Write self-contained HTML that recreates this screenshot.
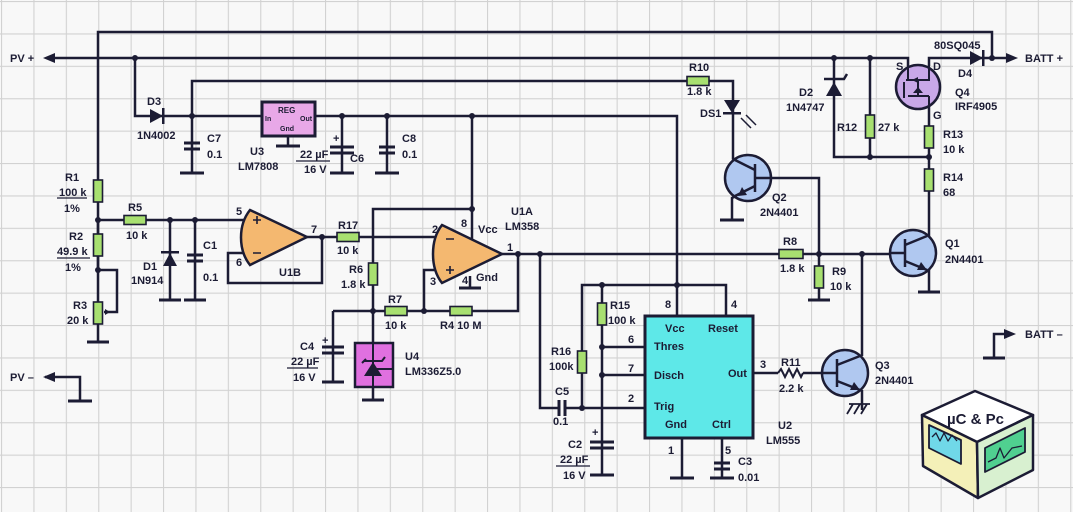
<!DOCTYPE html>
<html><head><meta charset="utf-8"><style>
html,body{margin:0;padding:0;background:#f8f8f8}
svg{display:block}
text{font-family:"Liberation Sans",sans-serif;font-weight:bold;font-size:11px;fill:#1c1c34}
</style></head><body>
<svg width="1073" height="512" viewBox="0 0 1073 512" xmlns="http://www.w3.org/2000/svg">
<defs>
<pattern id="g" x="1" y="1" width="32.4" height="32.4" patternUnits="userSpaceOnUse">
<path d="M0,0 V32.4 M0,0 H32.4" stroke="#d2d2d2" stroke-width="2.2" fill="none"/>
</pattern>
</defs>
<rect width="1073" height="512" fill="#f8f8f8"/>
<rect width="1073" height="512" fill="url(#g)"/>

<g stroke="#1c1c34" stroke-width="2.5" fill="none" stroke-linejoin="miter">
<path d="M98,270 V32 H992 V58"/>
<path d="M50,58 H908 V66 M929,66 V58 H1008"/>
<path d="M98,220 V270 V342 M98,270 H117 V312 H104"/>
<path d="M135,58 V116 H262 M315,116 H677 V316"/>
<path d="M192,173 V81 H733 V158"/>
<path d="M288,136 V146 M342,116 V173 M387,116 V173"/>
<path d="M98,220 H250 M170,220 V300 M195,220 V300"/>
<path d="M307,237 H437 M322,237 V283 H228 V253 H245"/>
<path d="M472,116 V241 M472,209 H373 V400 M333,311 H424 V270 H442 M424,311 H518 V254 M470,276 V288"/>
<path d="M333,311 V382"/>
<path d="M502,254 H890 M540,254 V408 H645 M582,408 V285 H726 V316 M602,285 V475 M602,347 H645 M602,375 H645 M682,438 V478 M722,438 V478"/>
<path d="M834,58 V157 H929 M870,58 V157 M929,105 V236 M929,270 V292 M732,158 L755,170 M755,186 L732,198 V220"/>
<path d="M771,178 H819 V300 M862,254 V356 M862,390 V410 M753,373 H778 M803,373 H822"/>
<path d="M45,377 H80 V401 M994,358 V334 H1005"/>
<g stroke-width="3">
<path d="M87,342 H109 M159,300 H181 M184,300 H206 M180,173 H204 M276,146 H300 M330,173 H354 M375,173 H399 M322,382 H344 M362,400 H384 M459,288 H481 M590,475 H614 M670,478 H694 M710,478 H734 M720,220 H744 M808,300 H830 M918,292 H940 M68,401 H92 M983,358 H1005"/>
</g>
<g stroke-width="3">
<path d="M184,143 H200 M184,149 H200 M330,147 H354 M330,153 H354 M379,147 H395 M379,153 H395 M187,255 H203 M187,261 H203 M322,347 H344 M322,353 H344 M590,442 H614 M590,448 H614 M714,463 H730 M714,469 H730"/>
</g>
<path d="M853,404 L847,414 M860,404 L854,414 M867,404 L861,414 M849,404 H870" stroke-width="1.8"/>
</g>
<rect x="559" y="405" width="6" height="6" fill="#f8f8f8"/>
<g stroke="#1c1c34" stroke-width="3" fill="none"><path d="M559,400 V416 M565,400 V416"/></g>

<g fill="#a8e070" stroke="#1c1c34" stroke-width="1.6">
<rect x="93.5" y="180" width="9" height="22"/>
<rect x="93.5" y="234" width="9" height="22"/>
<rect x="93.5" y="302" width="9" height="22"/>
<rect x="124" y="215.5" width="22" height="9"/>
<rect x="337" y="232.5" width="22" height="9"/>
<rect x="368.5" y="263" width="9" height="22"/>
<rect x="385" y="306.5" width="22" height="9"/>
<rect x="450" y="306.5" width="22" height="9"/>
<rect x="687" y="76.5" width="22" height="9"/>
<rect x="597.5" y="303" width="9" height="22"/>
<rect x="577.5" y="351" width="9" height="22"/>
<rect x="779" y="249.5" width="24" height="9"/>
<rect x="814.5" y="266" width="9" height="22"/>
<rect x="865.5" y="115" width="9" height="23"/>
<rect x="924.5" y="126" width="9" height="22"/>
<rect x="924.5" y="169" width="9" height="22"/>
</g>
<path d="M110,312 l-5,-3 v6z" fill="#1c1c34"/>
<path d="M778,373 l3,-4 l4,8 l4,-8 l4,8 l4,-8 l4,8 l2,-4" stroke="#1c1c34" stroke-width="2" fill="none"/>

<g fill="#1c1c34">
<path d="M43,58 l12,-5 v10z"/><path d="M1018,58 l-12,-5 v10z"/>
<path d="M43,377 l12,-5 v10z"/><path d="M1016,334 l-12,-5 v10z"/>
<path d="M150,109 L163,116 L150,123z"/><rect x="162" y="108" width="2.5" height="16"/>
<path d="M970,51 L983,58 L970,65z"/><rect x="982" y="50" width="2.5" height="16"/>
<path d="M163,266 L170,253 L177,266z"/><rect x="161" y="251" width="18" height="2.5"/>
<path d="M826,96 L834,82 L842,96z"/><path d="M824,79 L844,79 L847,74" stroke="#1c1c34" stroke-width="2.5" fill="none"/>
<path d="M724,100 L740,100 L732,113z"/><rect x="723" y="112" width="18" height="2.5"/>
</g>
<path d="M741,118 l10,10 M746,115 l10,10" stroke="#1c1c34" stroke-width="1.5"/>

<g fill="#f4b870" stroke="#1c1c34" stroke-width="2.5">
<path d="M250,210 L307,237 L250,265 C238,250 238,225 250,210z"/>
<path d="M442,225 L502,254 L442,283 C430,268 430,240 442,225z"/>
</g>
<g stroke="#1c1c34" stroke-width="1.6">
<path d="M253,220 h8 M257,216 v8 M253,253 h8 M446,239 h8 M446,270 h8 M450,266 v8"/>
</g>

<rect x="262" y="102" width="53" height="34" fill="#e8a8e8" stroke="#1c1c34" stroke-width="3"/>
<text x="278" y="113" style="font-size:8px">REG</text><text x="265" y="121" style="font-size:7px">In</text>
<text x="300" y="121" style="font-size:7px">Out</text><text x="280" y="131" style="font-size:7px">Gnd</text>
<rect x="355" y="343" width="38" height="44" fill="#e070e0" stroke="#1c1c34" stroke-width="2.5"/>
<path d="M364,376 L373,362 L382,376z" fill="#1c1c34"/>
<path d="M362,363 L366,359 M364,361 H382 L385,357 M373,343 V387 M373,369 H393" stroke="#1c1c34" stroke-width="2" fill="none"/>
<rect x="645" y="316" width="108" height="122" fill="#5ee8e8" stroke="#1c1c34" stroke-width="3"/>
<circle cx="918" cy="87" r="22" fill="#c8a8e8" stroke="#1c1c34" stroke-width="2.5"/>
<path d="M908,66 V80 M929,66 V80 H906 M904,82 V98 M929,96 H908 M929,96 V105 M918,80 V96" stroke="#1c1c34" stroke-width="2" fill="none"/>
<path d="M913,93 l5,-6 l5,6z M912,80 l6,-3 v6z" fill="#1c1c34"/>
<g fill="#b0c8f0" stroke="#1c1c34" stroke-width="2.5">
<circle cx="748" cy="178" r="23"/><circle cx="913" cy="253" r="23"/><circle cx="845" cy="373" r="23"/>
</g>
<g stroke="#1c1c34" stroke-width="2.5" fill="none">
<path d="M755,164 V192 M755,178 H771 M755,170 L735,160 M755,186 L735,196"/>
<path d="M905,239 V267 M890,253 H905 M905,245 L927,236 M905,261 L927,270"/>
<path d="M837,359 V387 M822,373 H837 M837,365 L860,356 M837,381 L860,390"/>
</g>
<g fill="#1c1c34"><path d="M738,196 l4,-9 l5,8z"/><path d="M927,270 l-10,0 l4,-8z"/><path d="M860,390 l-10,0 l4,-8z"/></g>

<g fill="#1c1c34">
<circle cx="135" cy="58" r="3"/><circle cx="98" cy="220" r="3"/><circle cx="98" cy="270" r="3"/>
<circle cx="192" cy="116" r="3"/><circle cx="342" cy="116" r="3"/><circle cx="387" cy="116" r="3"/><circle cx="472" cy="116" r="3"/>
<circle cx="170" cy="220" r="3"/><circle cx="195" cy="220" r="3"/><circle cx="322" cy="237" r="3"/><circle cx="472" cy="209" r="3"/>
<circle cx="373" cy="311" r="3"/><circle cx="424" cy="311" r="3"/><circle cx="518" cy="254" r="3"/><circle cx="540" cy="254" r="3"/>
<circle cx="582" cy="408" r="3"/><circle cx="602" cy="285" r="3"/><circle cx="602" cy="347" r="3"/><circle cx="602" cy="375" r="3"/><circle cx="677" cy="285" r="3"/>
<circle cx="819" cy="254" r="3"/><circle cx="862" cy="254" r="3"/><circle cx="834" cy="58" r="3"/><circle cx="870" cy="58" r="3"/><circle cx="992" cy="58" r="3"/>
<circle cx="870" cy="157" r="3"/><circle cx="929" cy="157" r="3"/>
</g>

<text x="10" y="62">PV +</text><text x="1025" y="62">BATT +</text>
<text x="10" y="381">PV –</text><text x="1025" y="338">BATT –</text>
<text x="65" y="181">R1</text><text x="59" y="196">100 k</text><text x="64" y="212">1%</text>
<path d="M57,198 H87 M57,258 H90" stroke="#1c1c34" stroke-width="1.2"/>
<text x="69" y="240">R2</text><text x="57" y="255">49.9 k</text><text x="65" y="271">1%</text>
<text x="73" y="309">R3</text><text x="67" y="324">20 k</text>
<text x="128" y="211">R5</text><text x="126" y="239">10 k</text>
<text x="143" y="270">D1</text><text x="131" y="284">1N914</text>
<text x="203" y="249">C1</text><text x="203" y="281">0.1</text>
<text x="236" y="215">5</text><text x="236" y="266">6</text><text x="279" y="276">U1B</text><text x="311" y="233">7</text>
<text x="338" y="229">R17</text><text x="337" y="254">10 k</text>
<text x="349" y="273">R6</text><text x="341" y="288">1.8 k</text>
<text x="388" y="303">R7</text><text x="385" y="329">10 k</text><text x="440" y="329">R4 10 M</text>
<text x="300" y="350">C4</text><text x="291" y="365">22 µF</text><text x="293" y="381">16 V</text>
<path d="M287,368 H318" stroke="#1c1c34" stroke-width="1.2"/>
<text x="322" y="344">+</text>
<text x="405" y="360">U4</text><text x="405" y="375">LM336Z5.0</text>
<text x="147" y="105">D3</text><text x="137" y="139">1N4002</text>
<text x="207" y="142">C7</text><text x="207" y="158">0.1</text>
<text x="250" y="155">U3</text><text x="238" y="170">LM7808</text>
<text x="300" y="158">22 µF</text><text x="304" y="173">16 V</text><text x="350" y="162">C6</text><text x="333" y="142">+</text>
<path d="M296,161 H330" stroke="#1c1c34" stroke-width="1.2"/>
<text x="402" y="142">C8</text><text x="402" y="158">0.1</text>
<text x="511" y="215">U1A</text><text x="505" y="230">LM358</text>
<text x="461" y="227">8</text><text x="478" y="233">Vcc</text><text x="432" y="233">2</text><text x="507" y="251">1</text>
<text x="430" y="285">3</text><text x="462" y="284">4</text><text x="476" y="281">Gnd</text>
<text x="689" y="71">R10</text><text x="687" y="95">1.8 k</text><text x="700" y="117">DS1</text>
<text x="610" y="309">R15</text><text x="608" y="324">100 k</text>
<text x="551" y="355">R16</text><text x="549" y="370">100k</text>
<text x="555" y="395">C5</text><text x="553" y="425">0.1</text>
<text x="568" y="448">C2</text><text x="560" y="463">22 µF</text><text x="563" y="479">16 V</text><text x="592" y="436">+</text>
<path d="M556,466 H590" stroke="#1c1c34" stroke-width="1.2"/>
<text x="665" y="308">8</text><text x="731" y="308">4</text><text x="628" y="343">6</text><text x="628" y="372">7</text><text x="628" y="402">2</text>
<text x="665" y="332">Vcc</text><text x="708" y="332">Reset</text><text x="654" y="350">Thres</text><text x="654" y="379">Disch</text>
<text x="728" y="377">Out</text><text x="654" y="410">Trig</text><text x="665" y="428">Gnd</text><text x="712" y="428">Ctrl</text>
<text x="668" y="454">1</text><text x="725" y="454">5</text><text x="738" y="465">C3</text><text x="738" y="481">0.01</text>
<text x="778" y="429">U2</text><text x="766" y="444">LM555</text><text x="760" y="368">3</text>
<text x="781" y="366">R11</text><text x="779" y="392">2.2 k</text>
<text x="875" y="369">Q3</text><text x="875" y="384">2N4401</text>
<text x="783" y="245">R8</text><text x="780" y="272">1.8 k</text>
<text x="832" y="275">R9</text><text x="830" y="290">10 k</text>
<text x="945" y="247">Q1</text><text x="945" y="263">2N4401</text>
<text x="772" y="201">Q2</text><text x="760" y="216">2N4401</text>
<text x="799" y="96">D2</text><text x="786" y="111">1N4747</text>
<text x="837" y="131">R12</text><text x="878" y="131">27 k</text>
<text x="934" y="49">80SQ045</text><text x="958" y="77">D4</text>
<text x="896" y="70">S</text><text x="933" y="70">D</text><text x="955" y="96">Q4</text><text x="955" y="110">IRF4905</text>
<text x="933" y="119">G</text><text x="943" y="138">R13</text><text x="943" y="153">10 k</text>
<text x="943" y="181">R14</text><text x="943" y="196">68</text>

<g stroke="#1c1c34" stroke-width="2.5" stroke-linejoin="round">
<path d="M922,415 L975,391 L1033,415 L977,442z" fill="#ffffff"/>
<path d="M922,415 L977,442 L978,498 L923,466z" fill="#f4f0b8"/>
<path d="M977,442 L1033,415 L1033,470 L978,498z" fill="#d8f0d0"/>
<path d="M929,425 L961,440 L961,464 L929,448z" fill="#70d8e8" stroke-width="1.8"/>
<path d="M985,448 L1025,428 L1025,452 L985,472z" fill="#50d090" stroke-width="1.8"/>
<path d="M932,437 l4,-4 l4,8 l4,-8 l4,8 l4,-6 l5,6 M988,462 l8,-4 l4,-10 l4,10 l8,-10 l10,-2" fill="none" stroke-width="1.3"/>
</g>
<text x="947" y="424" style="font-size:15px;font-family:'Liberation Sans Narrow','Liberation Sans',sans-serif">µC &amp; Pc</text>
</svg>
</body></html>
